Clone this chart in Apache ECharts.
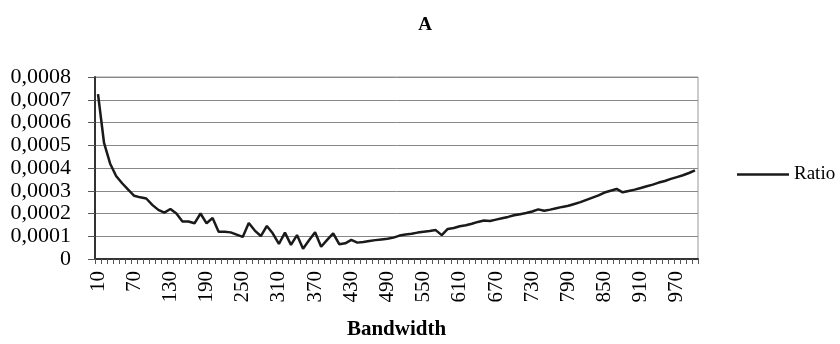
<!DOCTYPE html>
<html>
<head>
<meta charset="utf-8">
<script src="https://cdn.jsdelivr.net/npm/echarts@6/dist/echarts.min.js"></script>
<style>
html,body{margin:0;padding:0;background:#fff;}
#chart{width:840px;height:344px;}
</style>
</head>
<body>
<div id="chart"></div>
<script>
var titleText = 'A';
var xAxisTitle = 'Bandwidth';
var seriesName = 'Ratio';
var categories = [10,20,30,40,50,60,70,80,90,100,110,120,130,140,150,160,170,180,190,200,
  210,220,230,240,250,260,270,280,290,300,310,320,330,340,350,360,370,380,390,400,
  410,420,430,440,450,460,470,480,490,500,510,520,530,540,550,560,570,580,590,600,
  610,620,630,640,650,660,670,680,690,700,710,720,730,740,750,760,770,780,790,800,
  810,820,830,840,850,860,870,880,890,900,910,920,930,940,950,960,970,980,990,1000];
var ratio = [
  0.000725,0.000510,0.000420,0.000365,0.000333,0.000305,0.000278,0.000271,0.000266,0.000238,
  0.000216,0.000204,0.000220,0.000200,0.000165,0.000165,0.000157,0.000200,0.000157,0.000180,
  0.000120,0.000120,0.000117,0.000107,0.000097,0.000158,0.000125,0.000101,0.000145,0.000112,
  0.000066,0.000116,0.000062,0.000105,0.000045,0.000082,0.000118,0.000054,0.000084,0.000113,
  0.000065,0.000069,0.000084,0.000072,0.000075,0.000079,0.000083,0.000086,0.000089,0.000094,
  0.000103,0.000108,0.000111,0.000116,0.000120,0.000123,0.000127,0.000105,0.000132,0.000136,
  0.000144,0.000148,0.000155,0.000163,0.000169,0.000167,0.000173,0.000179,0.000185,0.000192,
  0.000197,0.000202,0.000209,0.000218,0.000212,0.000217,0.000223,0.000229,0.000234,0.000242,
  0.000250,0.000260,0.000270,0.000280,0.000292,0.000300,0.000308,0.000293,0.000299,0.000305,
  0.000312,0.000320,0.000327,0.000336,0.000343,0.000352,0.000360,0.000368,0.000378,0.000390];
var yMin = 0, yMax = 0.0008, yStep = 0.0001;

var FONT = 'Liberation Serif';
var chart = echarts.init(document.getElementById('chart'), null, {renderer:'canvas'});
chart.setOption({
  animation:false,
  backgroundColor:'#fff',
  title:{
    text:titleText, left:420, top:11, textAlign:'center',
    textStyle:{fontFamily:FONT, fontWeight:'bold', fontSize:19, color:'#000'}
  },
  legend:{
    data:[seriesName], left:737, top:165, orient:'vertical', padding:0,
    icon:'rect', itemWidth:52, itemHeight:2.5, itemGap:5,
    textStyle:{fontFamily:FONT, fontSize:19, color:'#000'}
  },
  grid:{left:95, right:142, top:77, bottom:85, show:true, borderColor:'#999', borderWidth:1,
    containLabel:false, outerBoundsMode:'none'},
  xAxis:{
    type:'category', data:categories, boundaryGap:true,
    name:xAxisTitle, nameLocation:'middle', nameGap:60,
    nameTextStyle:{fontFamily:FONT, fontWeight:'bold', fontSize:21, color:'#000'},
    axisLine:{lineStyle:{color:'#333', width:2}},
    axisTick:{show:true, interval:0, length:5, lineStyle:{color:'#555', width:1}},
    axisLabel:{interval:5, rotate:90, fontFamily:FONT, fontSize:21, color:'#000', margin:12},
    splitLine:{show:false}
  },
  yAxis:{
    type:'value', min:yMin, max:yMax, interval:yStep,
    axisLine:{show:true, lineStyle:{color:'#333', width:2}},
    axisTick:{show:true, length:7, lineStyle:{color:'#555'}},
    axisLabel:{fontFamily:FONT, fontSize:22, lineHeight:18, color:'#000', margin:24,
      showMinLabel:true, showMaxLabel:true, hideOverlap:false,
      formatter:function(v){ if (Math.abs(v)<1e-12) return '0'; return v.toFixed(4).replace('.', ','); }},
    splitLine:{show:true, lineStyle:{color:'#888', width:1}}
  },
  series:[{
    name:seriesName, type:'line', data:ratio, showSymbol:false, symbol:'none',
    lineStyle:{color:'#1a1a1a', width:2.5}, itemStyle:{color:'#1a1a1a'}
  }]
});
</script>
</body>
</html>
